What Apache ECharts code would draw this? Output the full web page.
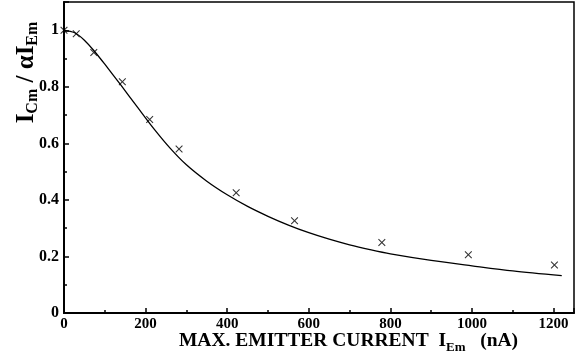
<!DOCTYPE html>
<html><head><meta charset="utf-8">
<script src="https://cdn.jsdelivr.net/npm/echarts@6/dist/echarts.min.js"></script>
<style>html,body{margin:0;padding:0;background:#fff}#c{width:587px;height:362px}</style>
</head><body><div id="c"></div>
<script>
// Fitted curve (solid line)
const curveX = [0, 25, 50, 75, 100, 140, 180, 220, 260, 300, 350, 400, 450, 500, 550, 600, 650, 700, 750, 800, 900, 1000, 1100, 1220];
const curveY = [1.0, 0.992, 0.965, 0.925, 0.88, 0.805, 0.728, 0.652, 0.583, 0.524, 0.466, 0.418, 0.377, 0.342, 0.311, 0.284, 0.261, 0.241, 0.224, 0.209, 0.186, 0.167, 0.149, 0.132];
// Measured points (x markers)
const markX = [0, 30, 73, 143, 210, 282, 422, 565, 779, 991, 1202];
const markY = [1.0, 0.988, 0.921, 0.818, 0.684, 0.58, 0.425, 0.326, 0.249, 0.206, 0.17];

const FONT = '"Liberation Serif", "Times New Roman", serif';
const chart = echarts.init(document.getElementById('c'), null, {renderer: 'canvas'});
chart.setOption({
  animation: false,
  backgroundColor: '#fff',
  grid: {left: 64, right: 13, top: 2, bottom: 49, show: true, borderColor: '#000', borderWidth: 1.5,
         containLabel: false, outerBoundsMode: 'none'},
  xAxis: {
    type: 'value', min: 0, max: 1250, interval: 200,
    axisLine: {show: true, onZero: false, lineStyle: {color: '#000', width: 2}},
    axisTick: {show: true, inside: true, length: 5, lineStyle: {color: '#000', width: 1.5}},
    minorTick: {show: true, splitNumber: 2, length: 3, lineStyle: {color: '#000', width: 1.5}},
    splitLine: {show: false},
    axisLabel: {showMaxLabel: false, margin: 4, color: '#000', fontFamily: FONT, fontWeight: 'bold', fontSize: 15,
                formatter: v => String(v)},
    name: '{m|MAX. EMITTER CURRENT  I}{s|Em}{m|   (nA)}',
    nameLocation: 'middle', nameGap: 14.5, nameMoveOverlap: false,
    nameTextStyle: {
      padding: [0, 0, 0, 59],
      rich: {
        m: {fontFamily: FONT, fontWeight: 'bold', fontSize: 19.5, color: '#000', lineHeight: 27},
        s: {fontFamily: FONT, fontWeight: 'bold', fontSize: 13, color: '#000', lineHeight: 13, verticalAlign: 'bottom'}
      }
    }
  },
  yAxis: {
    type: 'value', min: 0, max: 1.1, interval: 0.2,
    axisLine: {show: true, onZero: false, lineStyle: {color: '#000', width: 2}},
    axisTick: {show: true, inside: true, length: 5, lineStyle: {color: '#000', width: 1.5}},
    minorTick: {show: true, splitNumber: 2, length: 3, lineStyle: {color: '#000', width: 1.5}},
    splitLine: {show: false},
    axisLabel: {showMaxLabel: false, margin: 5, color: '#000', fontFamily: FONT, fontWeight: 'bold', fontSize: 16,
                formatter: v => String(v)},
    name: '{m|I}{s|Cm}{m| / αI}{s|Em}',
    nameLocation: 'middle', nameGap: 23, nameMoveOverlap: false,
    nameTextStyle: {
      padding: [0, 0, 0, 170],
      rich: {
        m: {fontFamily: FONT, fontWeight: 'bold', fontSize: 25, color: '#000', lineHeight: 29},
        s: {fontFamily: FONT, fontWeight: 'bold', fontSize: 16, color: '#000', lineHeight: 16, verticalAlign: 'bottom'}
      }
    }
  },
  series: [
    {
      type: 'line', data: curveX.map((x, i) => [x, curveY[i]]), smooth: 0.3,
      showSymbol: false, lineStyle: {color: '#000', width: 1.3}, z: 2
    },
    {
      type: 'scatter', data: markX.map((x, i) => [x, markY[i]]),
      symbol: 'path://M0,1L1,0L5,4L9,0L10,1L6,5L10,9L9,10L5,6L1,10L0,9L4,5Z',
      symbolSize: 7.5, itemStyle: {color: '#000'}, z: 3
    }
  ]
});
</script></body></html>
